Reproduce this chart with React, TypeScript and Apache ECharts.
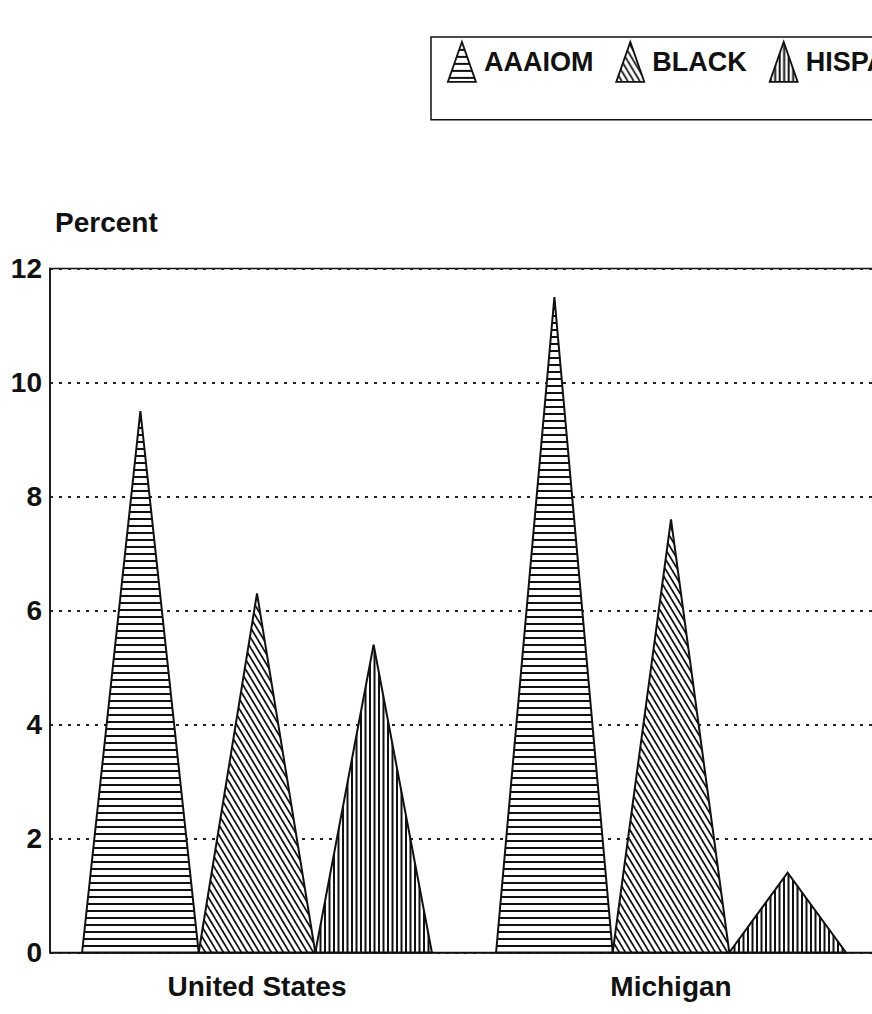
import React, { useEffect, useRef } from "react";
import * as echarts from "echarts";

const categories = ["United States", "Michigan"];
const seriesNames = ["AAAIOM", "BLACK", "HISPANIC"];
const aaaiomValues = [9.5, 11.5];
const blackValues = [6.3, 7.6];
const hispanicValues = [5.4, 1.4];
const yMin = 0;
const yMax = 12;
const yInterval = 2;

const FONT = '"Liberation Sans", Arial, Helvetica, sans-serif';
const INK = "#111";
const CATEGORY_GAP = 0.155;

function makePattern(kind: "h" | "d" | "v") {
  const c = document.createElement("canvas");
  let w = 8;
  let h = 7;
  if (kind === "d") {
    w = 6;
    h = 10;
  } else if (kind === "v") {
    w = 9;
    h = 8;
  }
  c.width = w;
  c.height = h;
  const ctx = c.getContext("2d")!;
  ctx.fillStyle = "#fff";
  ctx.fillRect(0, 0, w, h);
  ctx.fillStyle = INK;
  ctx.strokeStyle = INK;
  if (kind === "h") {
    ctx.fillRect(0, 0, w, 2);
  } else if (kind === "v") {
    ctx.fillRect(0, 0, 2, h);
    ctx.fillRect(4.5, 0, 2, h);
  } else {
    ctx.lineWidth = 1.7;
    for (const dx of [-w, 0, w]) {
      ctx.beginPath();
      ctx.moveTo(dx - w * 0.3, -h * 0.3);
      ctx.lineTo(dx + w * 1.3, h * 1.3);
      ctx.stroke();
    }
  }
  return { image: c.toDataURL(), imageWidth: w, imageHeight: h, repeat: "repeat" };
}

export default function App() {
  const ref = useRef<HTMLDivElement>(null);
  useEffect(() => {
    if (!ref.current) return;
    const chart = echarts.init(ref.current, undefined, { renderer: "svg" });
    const patterns = [makePattern("h"), makePattern("d"), makePattern("v")];
    const values = [aaaiomValues, blackValues, hispanicValues];
    const textBase = { fontFamily: FONT, fontWeight: "bold" as const, fontSize: 28, color: INK };
    const nSeries = seriesNames.length;
    chart.setOption({
      animation: false,
      backgroundColor: "#fff",
      legend: {
        left: 431,
        top: 37,
        padding: [4, 60, 37, 16],
        borderColor: INK,
        borderWidth: 1.5,
        itemWidth: 28,
        itemHeight: 40,
        itemGap: 22,
        icon: "triangle",
        itemStyle: { borderColor: INK, borderWidth: 1.8 },
        textStyle: { ...textBase, fontSize: 27, padding: [7, 0, 0, 3] },
        data: seriesNames,
      },
      grid: {
        left: 50,
        right: 222,
        top: 268.5,
        bottom: 61.5,
        show: true,
        borderColor: INK,
        borderWidth: 1.5,
        outerBoundsMode: "none",
      },
      xAxis: {
        type: "category",
        data: categories,
        axisLine: { lineStyle: { color: INK, width: 1.5 } },
        axisTick: { show: false },
        axisLabel: { ...textBase, margin: 20 },
      },
      yAxis: {
        type: "value",
        min: yMin,
        max: yMax,
        interval: yInterval,
        name: "Percent",
        nameLocation: "end",
        nameGap: 32,
        nameMoveOverlap: false,
        nameTextStyle: { ...textBase, align: "left", padding: [0, 0, 0, 5] },
        axisLine: { show: true, lineStyle: { color: INK, width: 1.5 } },
        axisTick: { show: false },
        axisLabel: { ...textBase, margin: 8 },
        splitLine: { show: true, lineStyle: { color: "#222", type: [3, 6], width: 1.8 } },
      },
      series: seriesNames.map((name, i) => ({
        type: "custom",
        name,
        data: values[i].map((v, j) => [j, v]),
        encode: { x: 0, y: 1 },
        itemStyle: { color: patterns[i], borderColor: INK, borderWidth: 2 },
        z: 3,
        renderItem: (params: any, api: any) => {
          const ci = api.value(0);
          const v = api.value(1);
          const top = api.coord([ci, v]);
          const base = api.coord([ci, 0]);
          const band = api.size([1, 0])[0];
          const w = (band * (1 - CATEGORY_GAP)) / nSeries;
          const left = top[0] - (nSeries / 2) * w + i * w;
          return {
            type: "polygon",
            shape: {
              points: [
                [left, base[1]],
                [left + w / 2, top[1]],
                [left + w, base[1]],
              ],
            },
            style: { fill: patterns[i], stroke: INK, lineWidth: 2, lineJoin: "miter" },
          };
        },
      })),
    });
    return () => chart.dispose();
  }, []);
  return (
    <div style={{ position: "fixed", left: 0, top: 0, width: 872, height: 1014, overflow: "hidden", background: "#fff" }}>
      <div ref={ref} style={{ width: 1100, height: 1014 }} />
    </div>
  );
}
